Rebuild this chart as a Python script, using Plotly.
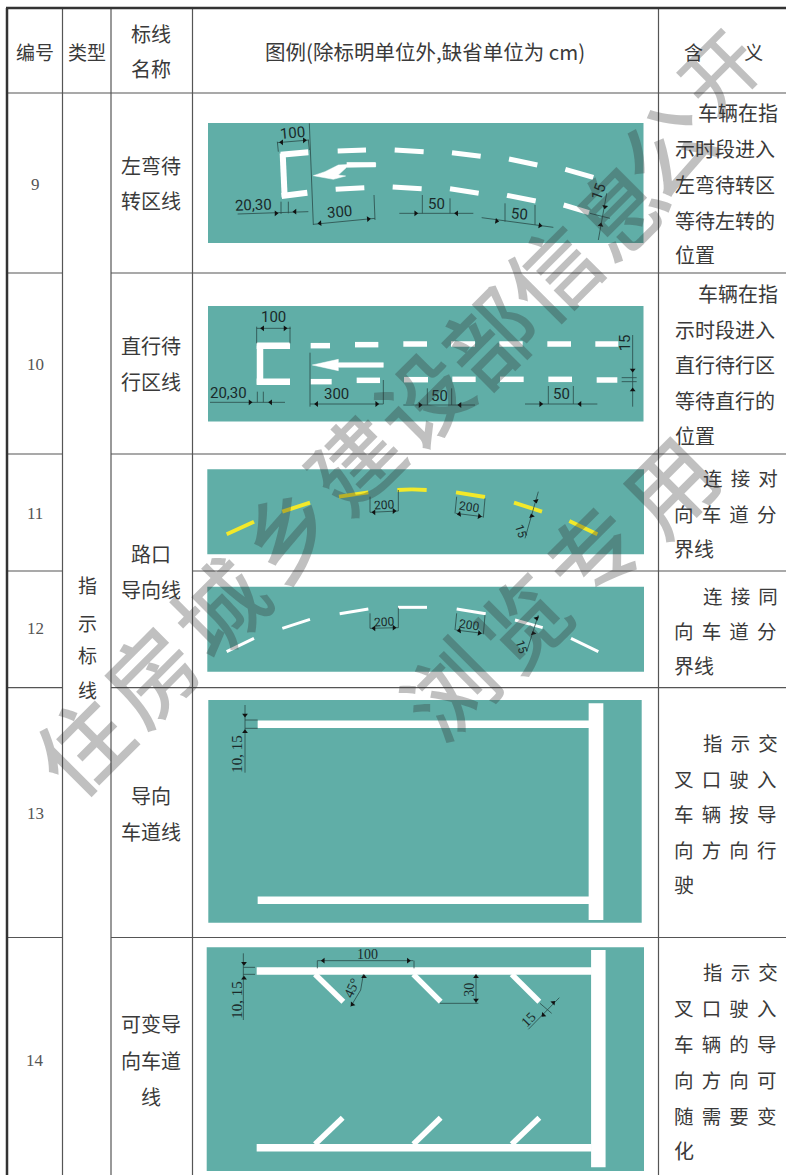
import plotly.graph_objects as go

# ---------- table text ----------
header_labels = ["编号", "类型", "标线<br>名称", "图例(除标明单位外,缺省单位为 cm)", "含\u3000\u3000\u2006义"]
row_numbers = ["9", "10", "11", "12", "13", "14"]
type_chars = ["指", "示", "标", "线"]
mark_names = [["左弯待", "转区线"], ["直行待", "行区线"], ["路口", "导向线"], ["导向", "车道线"], ["可变导", "向车道", "线"]]
GAP = "\u2005\u2006"
def sp(s):
    return GAP.join(s)
meanings = [
    ["车辆在指", "示时段进入", "左弯待转区", "等待左转的", "位置"],
    ["车辆在指", "示时段进入", "直行待行区", "等待直行的", "位置"],
    [sp("连接对"), sp("向车道分"), "界线"],
    [sp("连接同"), sp("向车道分"), "界线"],
    [sp("指示交"), sp("叉口驶入"), sp("车辆按导"), sp("向方向行"), "驶"],
    [sp("指示交"), sp("叉口驶入"), sp("车辆的导"), sp("向方向可"), sp("随需要变"), "化"],
]
wm_line1 = "住房城乡建设部信息公开"
wm_line2 = "浏览专用"

# ---------- table geometry ----------
row_y_number = [184, 364, 513, 628, 813, 1060]
type_y = [584, 622, 654, 689]
name_y = [[165, 200], [345, 381], [553, 589], [795, 831], [1023, 1060, 1096]]
meaning_y = [[112, 148, 184, 220, 254], [293, 329, 364, 400, 435], [477, 513, 548],
             [595, 630, 665], [742, 778, 813, 849, 884], [971, 1007, 1043, 1079, 1115, 1150]]
meaning_x = [[697, 674, 674, 674, 674], [697, 674, 674, 674, 674], [702, 673, 673], [702, 673, 673],
             [702, 673, 673, 673, 673], [702, 673, 673, 673, 673, 673]]
grid_h = [(7, 786, 93), (7, 62.5, 273), (111, 786, 273), (7, 62.5, 454), (111, 786, 454),
          (7, 62.5, 571), (192.5, 786, 571), (7, 62.5, 687.7), (111, 786, 687.7),
          (7, 62.5, 937.5), (111, 786, 937.5)]
grid_v = [(62.5, 8, 1175), (111, 8, 1175), (192.5, 8, 1175), (658.5, 8, 1175)]
panels = [(208, 643.5, 123, 243), (208, 643.5, 306, 421.5), (207.3, 644, 469.3, 554.3),
          (207.3, 644, 586.7, 671.7), (208.3, 641.7, 700, 922.7), (206.7, 644, 947.3, 1171)]
wm1_x = [80, 148, 217, 285, 352, 420, 487, 550, 617, 664, 717]
wm1_y = [743, 672, 605, 530, 460, 397, 335, 270, 207, 146, 69]
wm1_size = [90, 90, 90, 90, 90, 90, 90, 90, 90, 90, 76]
wm2_x = [447, 520, 590, 667]
wm2_y = [687, 620, 550, 483]

# ---------- road marks, (x0,y0,x1,y1) in reference pixels relative to a crop (1/3 px units) ----------
o9, o10, o11, o13, o14 = (190, 90), (190, 280), (190, 455), (190, 690), (190, 935)

dash9 = [(443,183,528,180),(614,180,701,185),(786,188,872,199),(957,207,1042,225),(1126,238,1210,262),
         (437,298,523,293),(608,291,695,296),(780,296,866,310),(951,316,1037,333),(1121,345,1197,368),
         (470,224,557,224)]
stop9 = [(355,187,272,194),(278,190,284,322),(275,318,352,308)]
arrow9 = [(370,257),(405,245),(445,225),(557,219),(557,230),(470,232),(445,255),(467,258),(430,268)]
dash10 = [(362,197,420,197),(495,194,565,194),(640,192,711,192),(783,192,855,192),(928,192,998,192),
          (1072,192,1143,192),(1216,192,1285,192),(362,305,425,305),(500,301,570,301),(642,299,714,299),
          (787,298,857,298),(930,298,1001,298),(1075,298,1146,298),(1220,300,1282,300)]
stop10 = [(300,197,200,197),(210,197,210,313),(200,305,300,305)]
arrow10 = [(367,255),(445,238),(445,248),(580,248),(580,262),(445,262),(445,272)]
curve_yellow = [(110,238,192,200),(277,170,360,143),(447,125,535,112),(622,105,666,103),(666,103,710,105),(798,112,885,126),
                (972,143,1056,170),(1138,198,1222,238)]
curve_white = [(110,590,192,550),(277,520,360,493),(449,476,535,462),(624,457,711,457),(800,462,887,476),
               (975,495,1058,518),(1143,550,1225,590)]
lane13 = [(203,103,1197,103),(203,631,1197,631)]
bar13 = [(1218,40,1218,690)]
lane14 = [(200,108,1205,108),(200,638,1205,638)]
bar14 = [(1225,45,1225,697)]
diag14 = [(375,118,460,200),(670,118,752,200),(965,118,1048,200),(375,628,458,548),(670,628,752,548),(965,628,1048,548)]

dim9 = [(262,158,357,150),(262,155,265,185),(355,150,358,180),(143,372,355,365),(273,335,273,372),(295,335,295,370),
        (370,403,555,385),(358,100,370,405),(552,315,555,390),(628,370,850,370),(697,315,697,370),(780,325,780,370),
        (875,383,1090,412),(945,340,945,395),(1035,345,1035,405),(1250,310,1225,450),(1200,370,1260,385)]
dim10 = [(200,145,302,145),(200,140,200,190),(300,140,300,190),(60,367,285,367),(202,335,202,367),(220,335,220,367),
         (360,372,580,372),(360,218,360,380),(580,300,580,372),(640,375,855,375),(712,325,712,375),(785,325,785,375),
         (1005,372,1222,372),(1075,318,1075,372),(1150,318,1150,372),(1328,165,1328,380),(1295,293,1340,293),(1295,305,1340,305)]
dim11 = [(540,172,625,168),(540,125,540,172),(625,105,625,168),(797,175,878,185),(800,125,795,175),(885,130,880,188),
         (1045,110,1005,250),(540,520,625,518),(540,475,540,520),(625,458,625,518),(797,525,878,535),(800,475,795,525),
         (885,480,880,538),(1045,480,1010,590)]
dim13 = [(165,45,165,248),(165,90,203,90),(165,115,203,115)]
dim14 = [(382,77,670,77),(382,77,382,100),(672,77,672,100),(160,55,160,255),(160,97,195,97),(160,118,195,118),
         (520,118,512,165),(512,165,482,215),(858,118,858,205),(750,205,865,205),(1015,283,1108,188),(1050,205,1085,235)]

tip9 = [(275,157,270),(343,151,90),(258,370,90),(315,365,270),(390,400,265),(535,387,85),(677,370,90),(800,370,270),
        (920,393,100),(1050,407,100),(1245,350,190),(1232,405,10)]
tip10 = [(218,145,270),(285,145,90),(180,367,90),(242,367,270),(380,372,270),(560,372,90),(690,375,90),(810,375,270),
         (1052,372,90),(1170,372,270),(1328,270,180),(1328,330,0)]
tip11 = [(552,172,270),(612,168,90),(808,177,260),(868,184,100),(1038,138,165),(1025,183,-15),
         (552,520,270),(612,518,90),(808,527,260),(868,534,100),(1040,490,165),(1030,535,-15)]
tip13 = [(165,75,180),(165,125,0)]
tip14 = [(400,77,270),(655,77,90),(162,85,180),(162,130,0),(522,125,0),(487,208,220),(858,125,0),(858,195,180),(1090,203,45),(1060,240,225)]

labels9 = [("100",307,130,-5),("20,30",190,345,-2),("300",448,365,-5),("50",738,343,0),("50",987,372,5),("15",1225,305,-70)]
labels10 = [("100",250,110,0),("20,30",115,340,0),("300",440,342,0),("50",748,347,0),("50",1113,342,0),("15",1305,190,-90)]
labels11 = [("200",582,150,-3),("200",838,157,8),("15",992,228,72),("200",582,500,-3),("200",838,510,8),("15",995,575,72)]
labels13 = [("10, 15",140,192,-90)]
labels14 = [("100",532,58,0),("10, 15",140,195,-90),("45°",487,158,-65),("30",838,163,-90),("15",1015,252,-45)]

TEAL = "#60aea7"
INK = "#3a3a3a"
CJK = "Noto Sans CJK SC, Noto Sans CJK JP, sans-serif"
NARROW = "Roboto, sans-serif"
SERIF = "Liberation Serif, serif"
WM = "rgba(48,48,48,0.30)"


def px(o, p):
    return o[0] + p[0] / 3, o[1] + p[1] / 3


def seg_trace(o, segs, color, width):
    xs, ys = [], []
    for s in segs:
        a = px(o, s[:2])
        b = px(o, s[2:])
        xs += [a[0], b[0], None]
        ys += [a[1], b[1], None]
    return go.Scatter(x=xs, y=ys, mode="lines", line=dict(color=color, width=width), hoverinfo="skip", showlegend=False)


def poly_trace(o, pts, color):
    c = [px(o, p) for p in pts + pts[:1]]
    return go.Scatter(x=[q[0] for q in c], y=[q[1] for q in c], mode="lines", fill="toself", fillcolor=color,
                      line=dict(color=color, width=0.5), hoverinfo="skip", showlegend=False)


def tip_trace(o, tips):
    c = [px(o, t[:2]) for t in tips]
    return go.Scatter(x=[q[0] for q in c], y=[q[1] for q in c], mode="markers",
                      marker=dict(symbol="triangle-up", size=5, color="#111111", angle=[t[2] for t in tips], line=dict(width=0)),
                      hoverinfo="skip", showlegend=False)


fig = go.Figure()

# grid
gx, gy = [], []
for x0, x1, y in grid_h:
    gx += [x0, x1, None]
    gy += [y, y, None]
for x, y0, y1 in grid_v:
    gx += [x, x, None]
    gy += [y0, y1, None]
fig.add_trace(go.Scatter(x=gx, y=gy, mode="lines", line=dict(color="#555555", width=1.2), hoverinfo="skip", showlegend=False))
fig.add_trace(go.Scatter(x=[7, 7, None, 6, 786], y=[1175, 8, None, 8, 8], mode="lines", line=dict(color="#333333", width=2.5),
                         hoverinfo="skip", showlegend=False))

# panels
for x0, x1, y0, y1 in panels:
    fig.add_trace(go.Scatter(x=[x0, x1, x1, x0, x0], y=[y0, y0, y1, y1, y0], mode="lines", fill="toself", fillcolor=TEAL,
                             line=dict(color=TEAL, width=0), hoverinfo="skip", showlegend=False))

# road marks
fig.add_trace(seg_trace(o9, dash9, "white", 5))
fig.add_trace(seg_trace(o9, stop9, "white", 6))
fig.add_trace(poly_trace(o9, arrow9, "white"))
fig.add_trace(seg_trace(o10, dash10, "white", 5.5))
fig.add_trace(seg_trace(o10, stop10, "white", 6.5))
fig.add_trace(poly_trace(o10, arrow10, "white"))
fig.add_trace(seg_trace(o11, curve_yellow, "#f2e92a", 3.8))
fig.add_trace(seg_trace(o11, curve_white, "white", 3))
fig.add_trace(seg_trace(o13, lane13, "white", 7.5))
fig.add_trace(seg_trace(o13, bar13, "white", 14.7))
fig.add_trace(seg_trace(o14, lane14, "white", 7.5))
fig.add_trace(seg_trace(o14, bar14, "white", 14.5))
fig.add_trace(seg_trace(o14, diag14, "white", 5.5))

# dimension lines
for o, d, t in [(o9, dim9, tip9), (o10, dim10, tip10), (o11, dim11, tip11), (o13, dim13, tip13), (o14, dim14, tip14)]:
    fig.add_trace(seg_trace(o, d, "#2a4a48", 0.8))
    fig.add_trace(tip_trace(o, t))

ann = []


def text(s, x, y, size=19, font=CJK, color=INK, anchor="center", angle=0, weight=400):
    ann.append(dict(x=x, y=y, xref="x", yref="y", text=s, showarrow=False, xanchor=anchor, yanchor="middle",
                    textangle=angle, borderpad=0, font=dict(family=font, size=size, color=color, weight=weight)))


text(header_labels[0], 35, 51, 19)
text(header_labels[1], 87, 51, 19)
text("标线", 151, 33, 20)
text("名称", 151, 68, 20)
text(header_labels[3], 424.5, 51, 20.5)
text(header_labels[4], 723, 51, 19)

for s, y in zip(row_numbers, row_y_number):
    text(s, 35, y, 17, SERIF, "#555555")
for s, y in zip(type_chars, type_y):
    text(s, 87, y, 19)
for lines, ys in zip(mark_names, name_y):
    for s, y in zip(lines, ys):
        text(s, 151, y, 20)
for lines, ys, xs in zip(meanings, meaning_y, meaning_x):
    for s, y, x in zip(lines, ys, xs):
        text(s, x, y, 20 if GAP not in s else 19.5, anchor="left")

for o, labs, fam, size in [(o9, labels9, NARROW, 15), (o10, labels10, NARROW, 15), (o11, labels11, NARROW, 12),
                           (o13, labels13, SERIF, 15), (o14, labels14, SERIF, 14)]:
    for s, zx, zy, a in labs:
        x, y = px(o, (zx, zy))
        text(s, x, y, 15 if s == "10, 15" else size, fam, "#1a2a2a", angle=a)

# watermark
for ch, x, y, sz in zip(wm_line1, wm1_x, wm1_y, wm1_size):
    text(ch, x, y, sz, CJK, WM, angle=-45, weight=500)
for ch, x, y in zip(wm_line2, wm2_x, wm2_y):
    text(ch, x, y, 90, CJK, WM, angle=-45, weight=500)

fig.update_layout(
    width=786, height=1175, margin=dict(l=0, r=0, t=0, b=0), paper_bgcolor="white", plot_bgcolor="white",
    showlegend=False, annotations=ann,
    xaxis=dict(range=[0, 786], visible=False, fixedrange=True),
    yaxis=dict(range=[1175, 0], visible=False, fixedrange=True),
)
fig.write_html("out.html", config={"displayModeBar": False},
               post_script="document.body.style.margin='0';document.documentElement.style.overflow='hidden';")
